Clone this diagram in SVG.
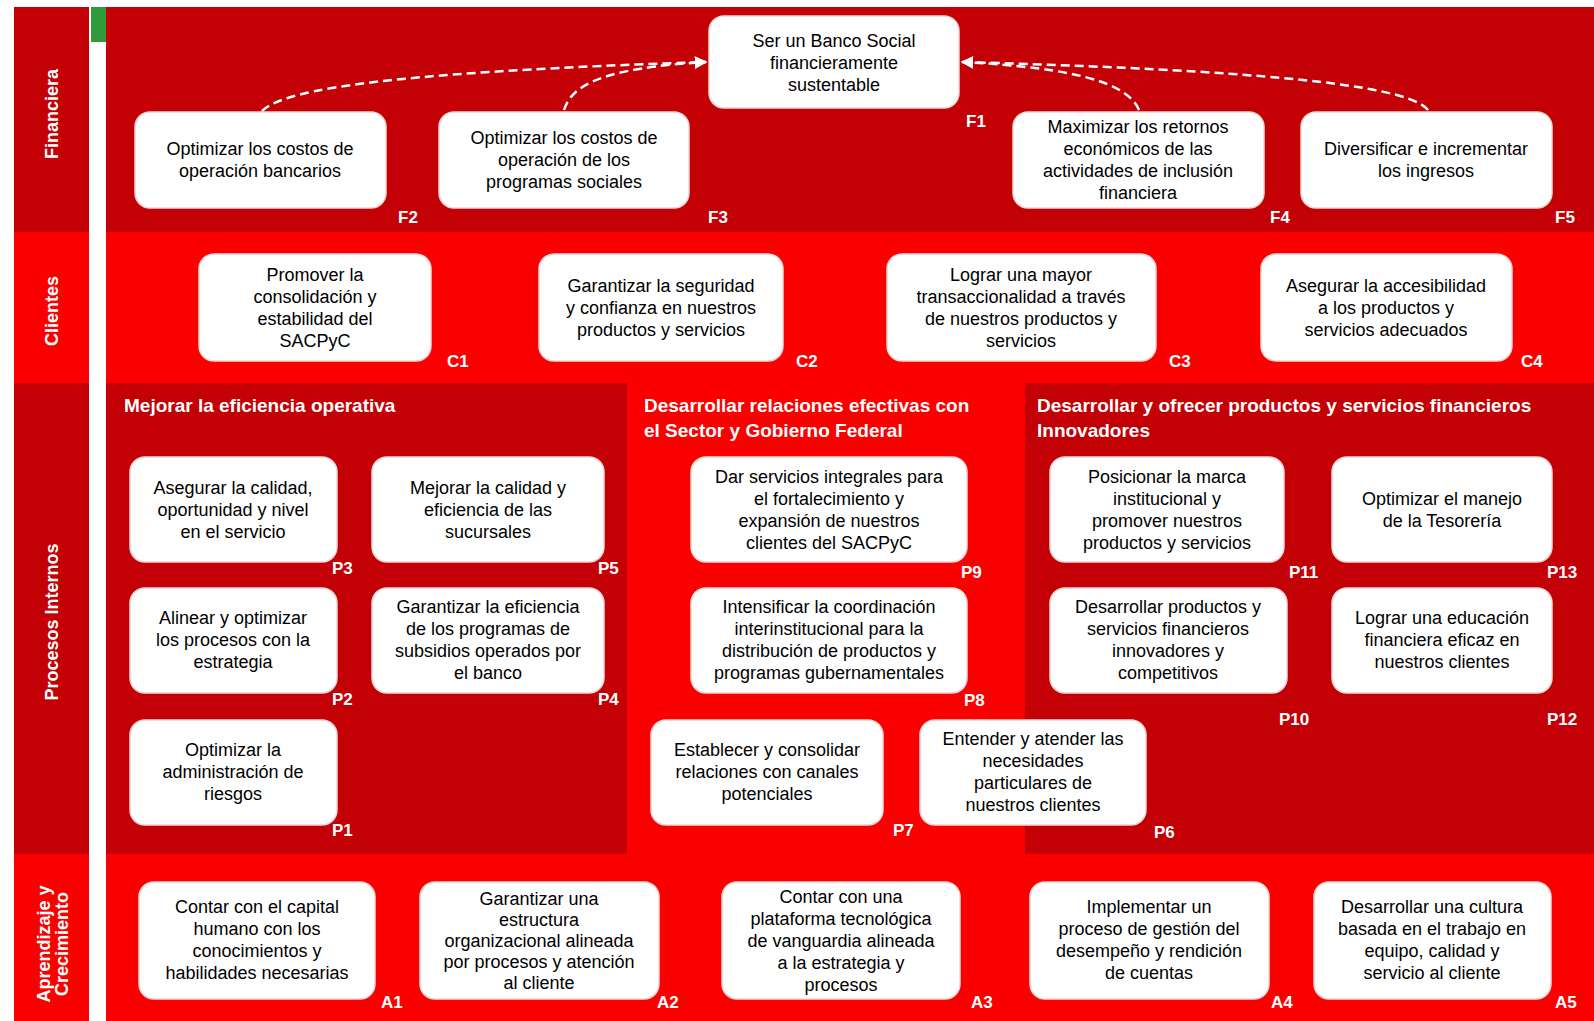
<svg xmlns="http://www.w3.org/2000/svg" width="1594" height="1021" viewBox="0 0 1594 1021">
<defs>
<style>
.box{fill:#fff;stroke:#f1d6d6;stroke-width:1.5}
.t{font-family:"Liberation Sans",Arial,sans-serif;font-size:18px;fill:#000;text-anchor:middle}
.id{font-family:"Liberation Sans",Arial,sans-serif;font-size:17px;font-weight:bold;fill:#fff}
.hd{font-family:"Liberation Sans",Arial,sans-serif;font-size:19px;font-weight:bold;fill:#fff}
.lane{font-family:"Liberation Sans",Arial,sans-serif;font-size:18px;font-weight:bold;fill:#fff;text-anchor:middle}
.conn{fill:none;stroke:#fff;stroke-width:2.5;stroke-dasharray:9 5}
.dark{fill:#c30006}
.bright{fill:#fa0000}
</style>
<marker id="arr" viewBox="0 0 10 10" refX="9" refY="5" markerWidth="5" markerHeight="5" orient="auto" markerUnits="strokeWidth">
<path d="M0,0 L10,5 L0,10 z" fill="#fff"/>
</marker>
</defs>
<rect x="0" y="0" width="1594" height="1021" fill="#fff"/>
<g id="lanes">
<rect class="dark" x="14" y="7" width="75" height="225"/>
<rect class="bright" x="14" y="232" width="75" height="151"/>
<rect class="dark" x="14" y="383" width="75" height="471"/>
<rect class="bright" x="14" y="854" width="75" height="167"/>
<rect x="91" y="7" width="15" height="35" fill="#2f9b3c"/>
<rect class="dark" x="106" y="7" width="1488" height="225"/>
<rect class="bright" x="106" y="232" width="1488" height="151"/>
<rect class="dark" x="106" y="383" width="521" height="471"/>
<rect class="bright" x="627" y="383" width="398" height="471"/>
<rect class="dark" x="1025" y="383" width="569" height="471"/>
<rect class="bright" x="106" y="854" width="1488" height="167"/>
<text class="lane" transform="translate(58,114) rotate(-90)">Financiera</text>
<text class="lane" transform="translate(58,311) rotate(-90)">Clientes</text>
<text class="lane" transform="translate(58,622) rotate(-90)">Procesos Internos</text>
<text class="lane" transform="translate(50,944) rotate(-90)">Aprendizaje y</text>
<text class="lane" transform="translate(68,944) rotate(-90)">Crecimiento</text>
<text class="hd" x="124" y="412">Mejorar la eficiencia operativa</text>
<text class="hd" x="644" y="412">Desarrollar relaciones efectivas con</text>
<text class="hd" x="644" y="437">el Sector y Gobierno Federal</text>
<text class="hd" x="1037" y="412">Desarrollar y ofrecer productos y servicios financieros</text>
<text class="hd" x="1037" y="437">Innovadores</text>
</g>
<g id="connectors">
<path class="conn" d="M262,111 C285,88 400,72 706,62" marker-end="url(#arr)"/>
<path class="conn" d="M564,110 C572,84 605,68 706,62" marker-end="url(#arr)"/>
<path class="conn" d="M1139,110 C1128,84 1080,68 962,62" marker-end="url(#arr)"/>
<path class="conn" d="M1428,110 C1408,84 1250,70 962,62" marker-end="url(#arr)"/>
</g>
<g id="F1"><rect class="box" x="709" y="16" width="250" height="92" rx="15"/><text class="t"><tspan x="834" y="47">Ser un Banco Social</tspan><tspan x="834" y="69">financieramente</tspan><tspan x="834" y="91">sustentable</tspan></text><text class="id" x="966" y="127">F1</text></g>
<g id="F2"><rect class="box" x="135" y="112" width="251" height="96" rx="15"/><text class="t"><tspan x="260" y="155">Optimizar los costos de</tspan><tspan x="260" y="177">operación bancarios</tspan></text><text class="id" x="398" y="223">F2</text></g>
<g id="F3"><rect class="box" x="439" y="112" width="250" height="96" rx="15"/><text class="t"><tspan x="564" y="144">Optimizar los costos de</tspan><tspan x="564" y="166">operación  de los</tspan><tspan x="564" y="188">programas sociales</tspan></text><text class="id" x="708" y="223">F3</text></g>
<g id="F4"><rect class="box" x="1013" y="112" width="251" height="96" rx="15"/><text class="t"><tspan x="1138" y="133">Maximizar los retornos</tspan><tspan x="1138" y="155">económicos de las</tspan><tspan x="1138" y="177">actividades de inclusión</tspan><tspan x="1138" y="199">financiera</tspan></text><text class="id" x="1270" y="223">F4</text></g>
<g id="F5"><rect class="box" x="1301" y="112" width="251" height="96" rx="15"/><text class="t"><tspan x="1426" y="155">Diversificar e incrementar</tspan><tspan x="1426" y="177">los ingresos</tspan></text><text class="id" x="1555" y="223">F5</text></g>
<g id="C1"><rect class="box" x="199" y="254" width="232" height="107" rx="15"/><text class="t"><tspan x="315" y="281">Promover la</tspan><tspan x="315" y="303">consolidación y</tspan><tspan x="315" y="325">estabilidad del</tspan><tspan x="315" y="347">SACPyC</tspan></text><text class="id" x="447" y="367">C1</text></g>
<g id="C2"><rect class="box" x="539" y="254" width="244" height="107" rx="15"/><text class="t"><tspan x="661" y="292">Garantizar la seguridad</tspan><tspan x="661" y="314">y confianza en nuestros</tspan><tspan x="661" y="336">productos y servicios</tspan></text><text class="id" x="796" y="367">C2</text></g>
<g id="C3"><rect class="box" x="887" y="254" width="269" height="107" rx="15"/><text class="t"><tspan x="1021" y="281">Lograr una mayor</tspan><tspan x="1021" y="303">transaccionalidad a través</tspan><tspan x="1021" y="325">de nuestros productos y</tspan><tspan x="1021" y="347">servicios</tspan></text><text class="id" x="1169" y="367">C3</text></g>
<g id="C4"><rect class="box" x="1261" y="254" width="251" height="107" rx="15"/><text class="t"><tspan x="1386" y="292">Asegurar la accesibilidad</tspan><tspan x="1386" y="314">a los productos y</tspan><tspan x="1386" y="336">servicios adecuados</tspan></text><text class="id" x="1521" y="367">C4</text></g>
<g id="P3"><rect class="box" x="130" y="457" width="207" height="105" rx="15"/><text class="t"><tspan x="233" y="494">Asegurar la calidad,</tspan><tspan x="233" y="516">oportunidad y nivel</tspan><tspan x="233" y="538">en el servicio</tspan></text><text class="id" x="332" y="574">P3</text></g>
<g id="P5"><rect class="box" x="372" y="457" width="232" height="105" rx="15"/><text class="t"><tspan x="488" y="494">Mejorar la calidad y</tspan><tspan x="488" y="516">eficiencia de las</tspan><tspan x="488" y="538">sucursales</tspan></text><text class="id" x="598" y="574">P5</text></g>
<g id="P2"><rect class="box" x="130" y="588" width="207" height="105" rx="15"/><text class="t"><tspan x="233" y="624">Alinear y optimizar</tspan><tspan x="233" y="646">los procesos con la</tspan><tspan x="233" y="668">estrategia</tspan></text><text class="id" x="332" y="705">P2</text></g>
<g id="P4"><rect class="box" x="372" y="588" width="232" height="105" rx="15"/><text class="t"><tspan x="488" y="613">Garantizar la eficiencia</tspan><tspan x="488" y="635">de los programas de</tspan><tspan x="488" y="657">subsidios operados por</tspan><tspan x="488" y="679">el banco</tspan></text><text class="id" x="598" y="705">P4</text></g>
<g id="P1"><rect class="box" x="130" y="720" width="207" height="105" rx="15"/><text class="t"><tspan x="233" y="756">Optimizar la</tspan><tspan x="233" y="778">administración de</tspan><tspan x="233" y="800">riesgos</tspan></text><text class="id" x="332" y="836">P1</text></g>
<g id="P9"><rect class="box" x="691" y="457" width="276" height="105" rx="15"/><text class="t"><tspan x="829" y="483">Dar servicios integrales para</tspan><tspan x="829" y="505">el fortalecimiento y</tspan><tspan x="829" y="527">expansión de nuestros</tspan><tspan x="829" y="549">clientes del SACPyC</tspan></text><text class="id" x="961" y="578">P9</text></g>
<g id="P8"><rect class="box" x="691" y="588" width="276" height="105" rx="15"/><text class="t"><tspan x="829" y="613">Intensificar la coordinación</tspan><tspan x="829" y="635">interinstitucional para la</tspan><tspan x="829" y="657">distribución de productos y</tspan><tspan x="829" y="679">programas gubernamentales</tspan></text><text class="id" x="964" y="706">P8</text></g>
<g id="P7"><rect class="box" x="651" y="720" width="232" height="105" rx="15"/><text class="t"><tspan x="767" y="756">Establecer y consolidar</tspan><tspan x="767" y="778">relaciones con canales</tspan><tspan x="767" y="800">potenciales</tspan></text><text class="id" x="893" y="836">P7</text></g>
<g id="P6"><rect class="box" x="920" y="720" width="226" height="105" rx="15"/><text class="t"><tspan x="1033" y="745">Entender y atender las</tspan><tspan x="1033" y="767">necesidades</tspan><tspan x="1033" y="789">particulares de</tspan><tspan x="1033" y="811">nuestros clientes</tspan></text><text class="id" x="1154" y="838">P6</text></g>
<g id="P11"><rect class="box" x="1050" y="457" width="234" height="105" rx="15"/><text class="t"><tspan x="1167" y="483">Posicionar la marca</tspan><tspan x="1167" y="505">institucional y</tspan><tspan x="1167" y="527">promover nuestros</tspan><tspan x="1167" y="549">productos y servicios</tspan></text><text class="id" x="1289" y="578">P11</text></g>
<g id="P13"><rect class="box" x="1332" y="457" width="220" height="105" rx="15"/><text class="t"><tspan x="1442" y="505">Optimizar el manejo</tspan><tspan x="1442" y="527">de la Tesorería</tspan></text><text class="id" x="1547" y="578">P13</text></g>
<g id="P10"><rect class="box" x="1050" y="588" width="237" height="105" rx="15"/><text class="t"><tspan x="1168" y="613">Desarrollar productos y</tspan><tspan x="1168" y="635">servicios financieros</tspan><tspan x="1168" y="657">innovadores y</tspan><tspan x="1168" y="679">competitivos</tspan></text><text class="id" x="1279" y="725">P10</text></g>
<g id="P12"><rect class="box" x="1332" y="588" width="220" height="105" rx="15"/><text class="t"><tspan x="1442" y="624">Lograr una educación</tspan><tspan x="1442" y="646">financiera eficaz en</tspan><tspan x="1442" y="668">nuestros clientes</tspan></text><text class="id" x="1547" y="725">P12</text></g>
<g id="A1"><rect class="box" x="139" y="882" width="236" height="117" rx="15"/><text class="t"><tspan x="257" y="913">Contar con el capital</tspan><tspan x="257" y="935">humano con los</tspan><tspan x="257" y="957">conocimientos y</tspan><tspan x="257" y="979">habilidades necesarias</tspan></text><text class="id" x="381" y="1008">A1</text></g>
<g id="A2"><rect class="box" x="420" y="882" width="239" height="117" rx="15"/><text class="t"><tspan x="539" y="905">Garantizar una</tspan><tspan x="539" y="926">estructura</tspan><tspan x="539" y="947">organizacional alineada</tspan><tspan x="539" y="968">por procesos y atención</tspan><tspan x="539" y="989">al cliente</tspan></text><text class="id" x="657" y="1008">A2</text></g>
<g id="A3"><rect class="box" x="722" y="882" width="238" height="117" rx="15"/><text class="t"><tspan x="841" y="903">Contar con una</tspan><tspan x="841" y="925">plataforma tecnológica</tspan><tspan x="841" y="947">de vanguardia alineada</tspan><tspan x="841" y="969">a la estrategia y</tspan><tspan x="841" y="991">procesos</tspan></text><text class="id" x="971" y="1008">A3</text></g>
<g id="A4"><rect class="box" x="1030" y="882" width="239" height="117" rx="15"/><text class="t"><tspan x="1149" y="913">Implementar un</tspan><tspan x="1149" y="935">proceso de gestión del</tspan><tspan x="1149" y="957">desempeño y rendición</tspan><tspan x="1149" y="979">de cuentas</tspan></text><text class="id" x="1271" y="1008">A4</text></g>
<g id="A5"><rect class="box" x="1314" y="882" width="237" height="117" rx="15"/><text class="t"><tspan x="1432" y="913">Desarrollar una cultura</tspan><tspan x="1432" y="935">basada en el trabajo en</tspan><tspan x="1432" y="957">equipo, calidad y</tspan><tspan x="1432" y="979">servicio al cliente</tspan></text><text class="id" x="1555" y="1008">A5</text></g>
</svg>
